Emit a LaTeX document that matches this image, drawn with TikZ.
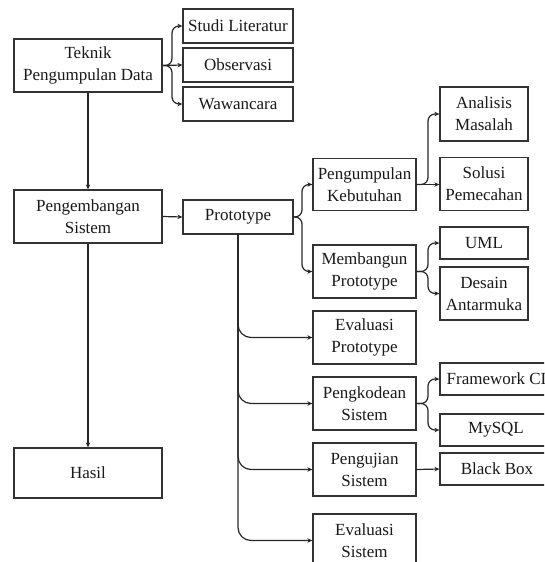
\documentclass[tikz,border=0pt]{standalone}
\usepackage{fontspec}
\setmainfont{Liberation Serif}
\usetikzlibrary{arrows.meta}
\tikzset{
  box/.style={draw=black!80, line width=1.3pt, fill=white, inner sep=1pt, align=center,
    font=\fontsize{17}{22}\selectfont, text=black!90},
  arr/.style={draw=black!85, line width=1.2pt, -{Stealth[length=5pt,width=4.5pt]}},
}
\begin{document}
\begin{tikzpicture}[x=1pt,y=-1pt]
\useasboundingbox (0,0) rectangle (544,562);
\clip (0,0) rectangle (544,562);
% left column
\node[box, minimum width=148pt, minimum height=53pt] (tek) at (88,65.5) {Teknik\\Pengumpulan Data};
\node[box, minimum width=110pt, minimum height=34pt] (studi) at (238,26) {Studi Literatur};
\node[box, minimum width=110pt, minimum height=34pt] (obs) at (238,65) {Observasi};
\node[box, minimum width=110pt, minimum height=34pt] (waw) at (238,104) {Wawancara};
\node[box, minimum width=148pt, minimum height=53pt] (peng) at (88,216.5) {Pengembangan\\Sistem};
\node[box, minimum width=110pt, minimum height=34pt] (proto) at (238,217) {Prototype};
\node[box, minimum width=148pt, minimum height=50pt] (hasil) at (88,473) {Hasil};
% middle column
\node[box, minimum width=103pt, minimum height=52pt] (pkeb) at (364.5,184.5) {Pengumpulan\\Kebutuhan};
\node[box, minimum width=103pt, minimum height=53pt] (memb) at (364.5,271.5) {Membangun\\Prototype};
\node[box, minimum width=103pt, minimum height=53pt] (evp) at (364.5,337.5) {Evaluasi\\Prototype};
\node[box, minimum width=103pt, minimum height=53pt] (pkod) at (364.5,403.5) {Pengkodean\\Sistem};
\node[box, minimum width=103pt, minimum height=53pt] (pengu) at (364.5,469.5) {Pengujian\\Sistem};
\node[box, minimum width=103pt, minimum height=53pt] (evs) at (364.5,540.5) {Evaluasi\\Sistem};
% right column
\node[box, minimum width=88pt, minimum height=54pt] (anal) at (484,114) {Analisis\\Masalah};
\node[box, minimum width=88pt, minimum height=53pt] (solusi) at (484,184) {Solusi\\Pemecahan};
\node[box, minimum width=88pt, minimum height=32pt] (uml) at (484,243) {UML};
\node[box, minimum width=88pt, minimum height=53pt] (desain) at (484,293.5) {Desain\\Antarmuka};
\node[box, minimum width=113pt, minimum height=32pt] (fw) at (496.5,379) {Framework CI};
\node[box, minimum width=112pt, minimum height=32pt] (mysql) at (496,430) {MySQL};
\node[box, minimum width=114pt, minimum height=32pt] (bb) at (497,469) {Black Box};
% fork points
\coordinate (f1) at (172,65.5);
\coordinate (f2) at (302,217);
\coordinate (f3) at (428,184.5);
\coordinate (f4) at (428,271.5);
\coordinate (f5) at (428,403.5);
% connectors
\draw[arr, rounded corners=7pt] (tek.east) -- (f1) |- (studi.west);
\draw[arr] (tek.east) -- (obs.west);
\draw[arr, rounded corners=7pt] (tek.east) -- (f1) |- (waw.west);
\draw[arr] (tek.south) -- (peng.north);
\draw[arr] (peng.east) -- (proto.west);
\draw[arr] (peng.south) -- (hasil.north);
\draw[arr, rounded corners=7pt] (proto.east) -- (f2) |- (pkeb.west);
\draw[arr, rounded corners=7pt] (proto.east) -- (f2) |- (memb.west);
\draw[arr, rounded corners=7pt] (pkeb.east) -- (f3) |- (anal.west);
\draw[arr] (pkeb.east) -- (solusi.west |- pkeb.east);
\draw[arr, rounded corners=7pt] (memb.east) -- (f4) |- (uml.west);
\draw[arr, rounded corners=7pt] (memb.east) -- (f4) |- (desain.west);
\draw[arr, rounded corners=7pt] (pkod.east) -- (f5) |- (fw.west);
\draw[arr, rounded corners=7pt] (pkod.east) -- (f5) |- (mysql.west);
\draw[arr] (pengu.east) -- (bb.west);
\draw[arr, rounded corners=13pt] (proto.south) |- (evp.west);
\draw[arr, rounded corners=13pt] (proto.south) |- (pkod.west);
\draw[arr, rounded corners=13pt] (proto.south) |- (pengu.west);
\draw[arr, rounded corners=13pt] (proto.south) |- (evs.west);
\end{tikzpicture}
\end{document}
